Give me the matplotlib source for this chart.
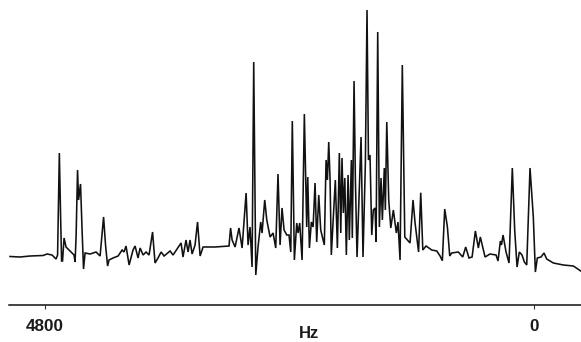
import matplotlib
matplotlib.use("Agg")
import matplotlib.pyplot as plt

# Frequency readings (Hz) off the reference trace, with signal height above the axis line
hz_left = [5092,4995,4897,4771,4732,4684,4664,4645,4630,4613,4601,4591,4582,4567,4548,4509,4470,4460,4450,4436,4426,4407,4392,4378,4363,4314,4256,4217,4203,4183,4164,4144,4130,4091,4042,4003,3984,3965,3935,3897,3877,3848,3828,3799,3770,3741,3707,3683,3654,3624,3595,3537,3508,3430,3411,3382,3362,3343,3323,3294,3270,3245,3216,3177,3100]
signal_left = [49,48.5,49.5,50,51.5,50.5,48.5,46.5,50.5,152.5,90.5,44.5,44.5,67.5,58.5,54.5,50.5,43.5,69.5,135.5,105.5,121.5,75.5,36.5,52.5,51.5,53.5,49.5,65.5,88.5,60.5,39.5,45.5,47.5,49.5,55.5,53.5,59.5,40.5,55.5,59.5,47.5,57.5,50.5,53.5,50.5,73.5,42.5,47.5,53.5,49.5,54.5,50.5,62.5,48.5,65.5,53.5,65.5,51.5,60.5,83.5,49.5,58.5,58.5,58.5]

hz_middle = [2964,2949,2934,2905,2867,2837,2798,2779,2760,2740,2724,2704,2682,2656,2643,2617,2597,2565,2536,2510,2488,2468,2449,2429,2403,2381,2364,2349,2329,2306,2293,2277,2254,2232,2209,2199,2183,2164,2147,2128,2112,2092,2073,2038,2021,2008,1995,1982,1970,1931,1911,1892,1878,1866,1853,1839,1824,1807,1795,1775,1766,1749,1736,1720,1681,1662,1639,1623,1609,1594,1577,1562,1545,1535,1519,1503,1487,1474,1455,1445,1431,1412,1392,1367,1338,1322,1302,1280,1256,1205,1176,1156,1122]
signal_middle = [59.5,77.5,65.5,58.5,77.5,57.5,112.5,60.5,78.5,38.5,243.5,30.5,58.5,83.5,72.5,105.5,85.5,68.5,72.5,57.5,131.5,60.5,97.5,75.5,70.5,70.5,53.5,184.5,45.5,82.5,72.5,82.5,45.5,191.5,78.5,128.5,57.5,83.5,78.5,122.5,63.5,110.5,75.5,60.5,145.5,125.5,163.5,125.5,50.5,125.5,57.5,152.5,72.5,147.5,92.5,127.5,50.5,130.5,65.5,145.5,67.5,224.5,125.5,48.5,168.5,48.5,142.5,295.5,145.5,150.5,70.5,95.5,97.5,63.5,273.5,78.5,127.5,85.5,137.5,95.5,183.5,105.5,77.5,95.5,72.5,83.5,45.5,240.5,68.5,62.5,105.5,82.5,53.5]

hz_right = [1101,1081,1049,994,945,913,891,868,842,819,800,736,693,664,632,602,570,541,522,476,428,369,350,327,316,301,272,243,211,188,165,143,117,94,71,39,7,-13,-32,-68,-97,-123,-188,-285,-382,-454]
signal_right = [112.8,55.5,59.5,55.5,54.5,49.5,44.8,96.5,78.5,49.5,52.5,53.5,48.5,58.5,47.5,48.5,74.5,57.5,68.5,48.5,51.5,50.5,44.5,64.5,60.5,70.5,53.5,42.5,137.5,75.5,38.5,53.5,50.5,43.5,40.5,137.5,88.5,33.5,47.5,48.5,52.5,46.5,42.5,40.5,39.5,34.5]

hz_calibration = 4800 / 4752
tick_values = [4800, 0]
tick_labels = ["4800", "0"]
x_label = "Hz"

hz = [v * hz_calibration for v in hz_left + hz_middle + hz_right]
signal = signal_left + signal_middle + signal_right

plt.rcParams["font.family"] = ["Liberation Sans", "DejaVu Sans"]
fig = plt.figure(figsize=(5.81, 3.42), dpi=100)
ax = fig.add_axes([0, (342 - 304.5) / 342, 1, 304.5 / 342])
ax.plot(hz, signal, color="#111111", lw=1.15, solid_joinstyle="miter")
ax.set_xlim(5242, -461)
ax.set_ylim(1, 305.5)
for s in ["top", "left", "right"]:
    ax.spines[s].set_visible(False)
ax.spines["bottom"].set_linewidth(1.1)
ax.spines["bottom"].set_color("#111111")
ax.spines["bottom"].set_bounds(5153, -461)
ax.set_yticks([])
ax.set_xticks(tick_values)
ax.set_xticklabels(tick_labels, fontsize=12.3, fontweight="bold", color="#1a1a1a")
ax.tick_params(axis="x", length=3, width=0.8, pad=7.5, color="#333333")
ax.set_xlabel(x_label, fontsize=12, fontweight="bold", color="#1a1a1a")
ax.xaxis.set_label_coords(308.5 / 581, -29.5 / 304.5, transform=ax.transAxes)
ax.xaxis.label.set_va("center")
fig.savefig("out.png", dpi=100)
